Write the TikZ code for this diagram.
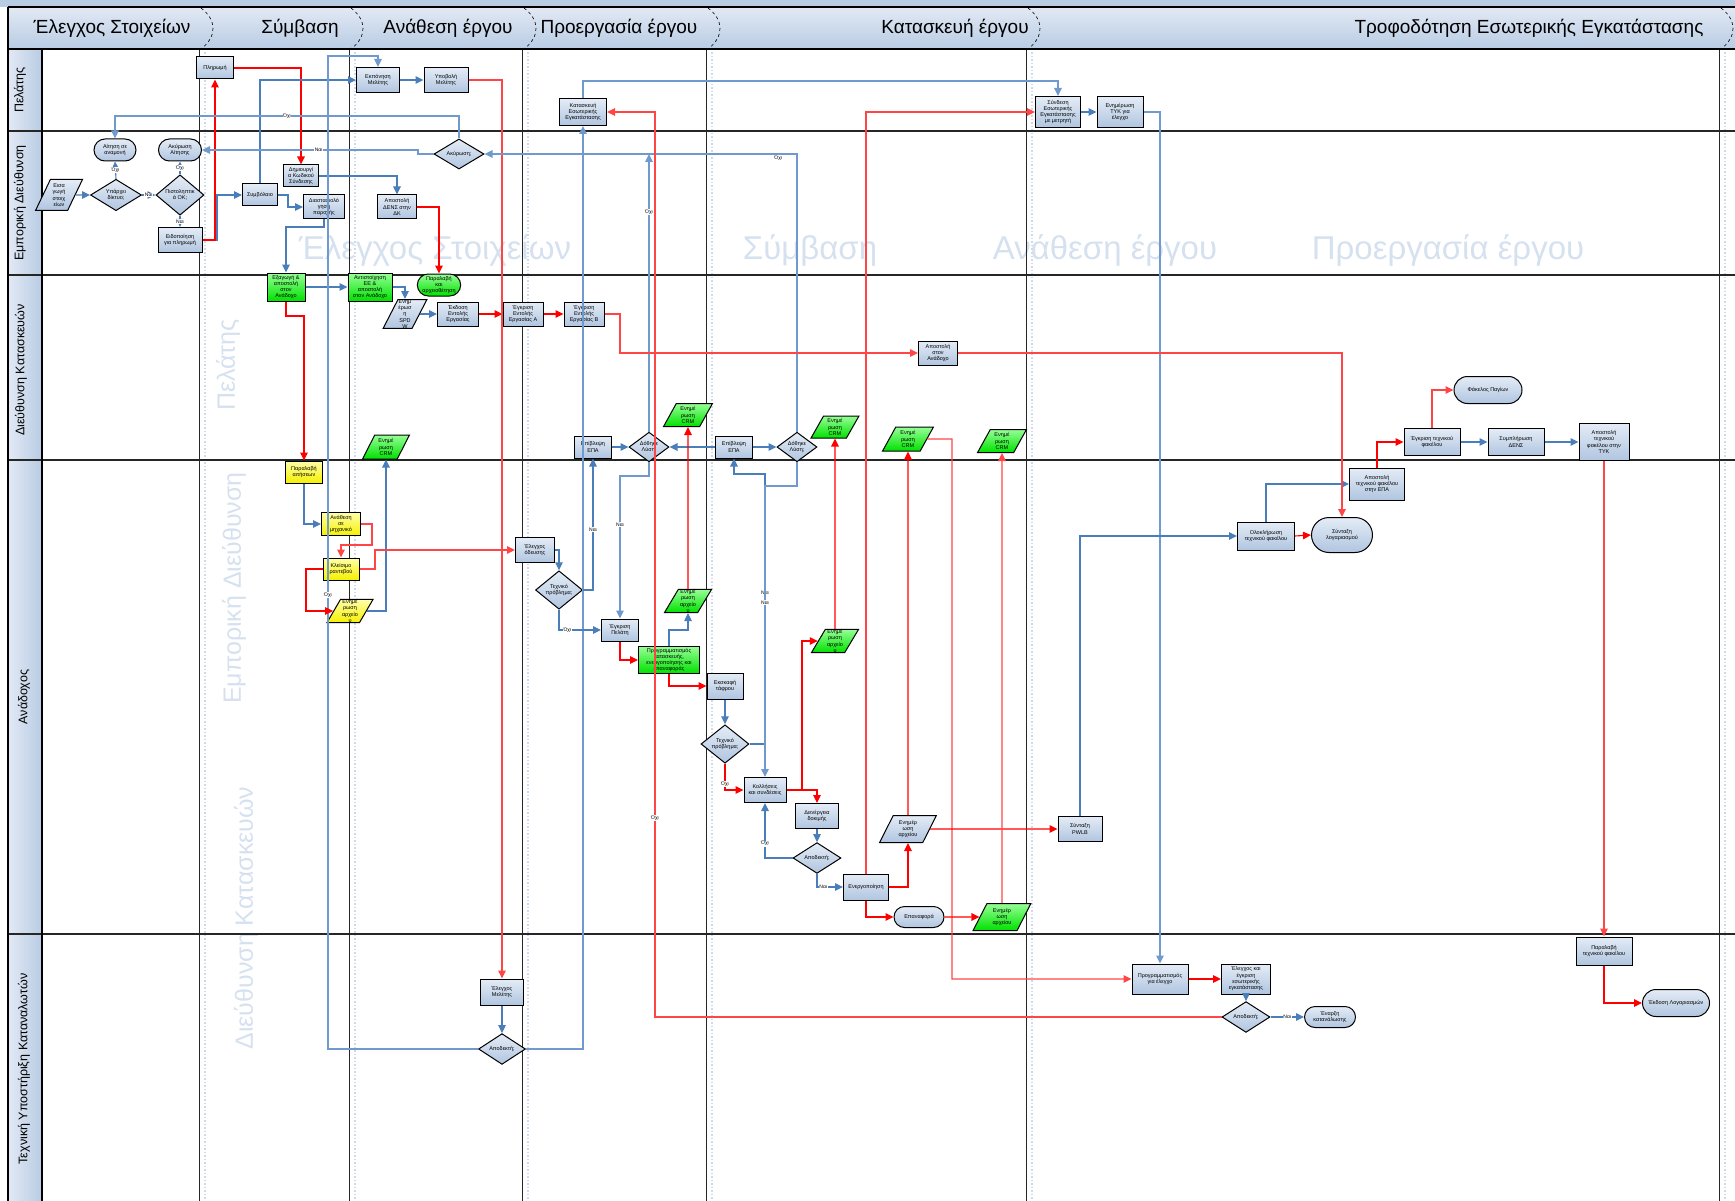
\documentclass[tikz,border=0pt]{standalone}
\usepackage{fontspec}
\setmainfont{Liberation Sans}
\usetikzlibrary{arrows.meta,shapes.geometric,shapes.misc}
\definecolor{laneblue}{RGB}{184,204,228}
\definecolor{lanelight}{RGB}{226,233,244}
\definecolor{boxtop}{RGB}{228,236,246}
\definecolor{boxbot}{RGB}{176,197,224}
\definecolor{greentop}{RGB}{150,255,150}
\definecolor{greenbot}{RGB}{0,225,0}
\definecolor{yellowtop}{RGB}{255,255,170}
\definecolor{yellowbot}{RGB}{245,240,0}
\definecolor{flowblue}{RGB}{74,126,187}
\definecolor{flowpale}{RGB}{112,153,206}
\definecolor{flowred}{RGB}{255,0,0}
\definecolor{flowpink}{RGB}{255,70,70}
\definecolor{ghost}{RGB}{214,225,240}
\definecolor{phaseline}{RGB}{205,218,236}
\begin{document}
\begin{tikzpicture}[x=1pt,y=-1pt,
  every node/.style={font=\fontsize{5.5}{6.3}\selectfont,align=center,inner sep=0.5pt},
  sz/.style 2 args={minimum width=#1pt,minimum height=#2pt},
  proc/.style={rectangle,draw=black,line width=1pt,top color=boxtop,bottom color=boxbot},
  procg/.style={proc,top color=greentop,bottom color=greenbot},
  procy/.style={proc,top color=yellowtop,bottom color=yellowbot},
  dec/.style={diamond,draw=black,line width=1pt,top color=boxtop,bottom color=boxbot,inner sep=0pt},
  term/.style={rounded rectangle,draw=black,line width=1pt,top color=boxtop,bottom color=boxbot},
  termg/.style={term,top color=greentop,bottom color=greenbot},
  io/.style={trapezium,trapezium left angle=64,trapezium right angle=116,trapezium stretches=true,
    draw=black,line width=1pt,top color=boxtop,bottom color=boxbot,inner sep=0pt},
  iog/.style={io,top color=greentop,bottom color=greenbot},
  ioy/.style={io,top color=yellowtop,bottom color=yellowbot},
  fl/.style={draw=flowblue,line width=1.1pt,-{Triangle[length=8pt,width=7.5pt]}},
  flp/.style={fl,draw=flowpale},
  fr/.style={draw=flowred,line width=1.1pt,-{Triangle[length=8pt,width=7.5pt]}},
  frp/.style={fr,draw=flowpink},
  lbl/.style={font=\fontsize{5}{6}\selectfont,fill=white,inner sep=0.6pt},
  lane/.style={rotate=90,font=\fontsize{12.5}{14}\selectfont},
  phase/.style={font=\fontsize{19}{22}\selectfont},
  ghosth/.style={text=ghost,font=\fontsize{33}{36}\selectfont},
  ghostv/.style={text=ghost,rotate=90,font=\fontsize{25}{28}\selectfont}]
  \useasboundingbox (0,0) rectangle (1735,1201);
  \fill[laneblue] (0,0) rectangle (1735,7);
  \shade[top color=lanelight,bottom color=laneblue] (8,7) rectangle (1735,49);
  \foreach \ya/\yb in {49/131,131/275,275/460,460/934,934/1201}
    \shade[left color=lanelight,right color=laneblue] (8,\ya) rectangle (42,\yb);
  \node[ghosth] (gh1) at (435,250) {Έλεγχος Στοιχείων};
  \node[ghosth] (gh2) at (810,250) {Σύμβαση};
  \node[ghosth] (gh3) at (1105,250) {Ανάθεση έργου};
  \node[ghosth] (gh4) at (1448,250) {Προεργασία έργου};
  \node[ghostv] (gv1) at (228,365) {Πελάτης};
  \node[ghostv] (gv2) at (234,588) {Εμπορική Διεύθυνση};
  \node[ghostv] (gv3) at (246,918) {Διεύθυνση Κατασκευών};
  \foreach \x in {205,355,528,712,1032,1725}
    \draw[phaseline,line width=1.5pt,dotted] (\x,49) -- (\x,1201);
  \foreach \x in {199,349,522,706,1026,1719}
    \draw[black!85,line width=1pt] (\x,49) -- (\x,1201);
  \foreach \x in {201,351,524,708,1028,1721}
    \draw[dashed,line width=0.6pt] (\x,8) .. controls (\x+16,20) and (\x+16,37) .. (\x,49);
  \foreach \y in {131,275,460,934}
    \draw[black!85,line width=1.3pt] (8,\y) -- (1735,\y);
  \draw[line width=2.2pt] (8,7) -- (1735,7) (8,49) -- (1735,49) (8,7) -- (8,1201);
  \draw[line width=1.2pt] (42,49) -- (42,1201);
  \node[phase] (ph1) at (112,28) {Έλεγχος Στοιχείων};
  \node[phase] (ph2) at (300,28) {Σύμβαση};
  \node[phase] (ph3) at (448,28) {Ανάθεση έργου};
  \node[phase] (ph4) at (619,28) {Προεργασία έργου};
  \node[phase] (ph5) at (955,28) {Κατασκευή έργου};
  \node[phase] (ph6) at (1529,28) {Τροφοδότηση Εσωτερικής Εγκατάστασης};
  \node[lane] (ln1) at (20,90) {Πελάτης};
  \node[lane] (ln2) at (20,203) {Εμπορική Διεύθυνση};
  \node[lane] (ln3) at (21,370) {Διεύθυνση Κατασκευών};
  \node[lane] (ln4) at (24,697) {Ανάδοχος};
  \node[lane] (ln5) at (24,1069) {Τεχνική Υποστήριξη Καταναλωτών};

  \node[proc,sz={37}{22}] (pay) at (215,68) {Πληρωμή};
  \node[proc,sz={43}{25}] (ekp) at (378,80) {Εκπόνηση\\Μελέτης};
  \node[proc,sz={44}{25}] (ypo) at (446,80) {Υποβολή\\Μελέτης};
  \node[proc,sz={47}{27}] (kat) at (583,112) {Κατασκευή\\Εσωτερικής\\Εγκατάστασης};
  \node[proc,sz={45}{31}] (synd) at (1058,112) {Σύνδεση\\Εσωτερικής\\Εγκατάστασης\\με μετρητή};
  \node[proc,sz={46}{31}] (tyk) at (1120,112) {Ενημέρωση\\ΤΥΚ για\\έλεγχο};

  \node[term,sz={43}{22}] (wait) at (115,150) {Αίτηση σε\\αναμονή};
  \node[term,sz={44}{22}] (canc) at (180,150) {Ακύρωση\\Αίτησης};
  \node[io,sz={47}{31}] (inp) at (59,195) {Εισα\\γωγή\\στοιχ\\είων};
  \node[dec,sz={51}{31}] (net) at (116,195) {Υπάρχει\\δίκτυο;};
  \node[dec,sz={48}{31}] (cred) at (180,195) {Πιστοληπτικ\\ά ΟΚ;};
  \node[proc,sz={44}{25}] (notify) at (180,240) {Ειδοποίηση\\για πληρωμή};
  \node[proc,sz={35}{22}] (contr) at (260,195) {Συμβόλαιο};
  \node[proc,sz={35}{22}] (code) at (301,176) {Δημιουργί\\α Κωδικού\\Σύνδεσης};
  \node[proc,sz={41}{24}] (dim) at (324,207) {Διαστασιολό\\γηση\\παροχής};
  \node[proc,sz={39}{24}] (dens) at (397,207) {Αποστολή\\ΔΕΝΣ στην\\ΔΚ};
  \node[dec,sz={50}{30}] (abort) at (459,154) {Ακύρωση;};

  \node[procg,sz={38}{28}] (exp) at (286,287) {Εξαγωγή \&\\αποστολή\\στον\\Ανάδοχο};
  \node[procg,sz={44}{28}] (match) at (370,287) {Αντιστοίχηση\\ΕΕ \&\\αποστολή\\στον Ανάδοχο};
  \node[termg,sz={43}{22}] (recv) at (439,285) {Παραλαβή\\και\\αρχειοθέτηση};
  \node[io,sz={44}{24}] (spdw) at (405,314) {Ενημ\\έρωσ\\η\\SPD\\W};
  \node[proc,sz={41}{24}] (issue) at (458,314) {Έκδοση\\Εντολής\\Εργασίας};
  \node[proc,sz={40}{24}] (appra) at (523,314) {Έγκριση\\Εντολής\\Εργασίας Α};
  \node[proc,sz={40}{24}] (apprb) at (584,314) {Έγκριση\\Εντολής\\Εργασίας Β};
  \node[proc,sz={39}{24}] (send) at (938,353) {Αποστολή\\στον\\Ανάδοχο};
  \node[term,sz={69}{27}] (pagia) at (1488,390) {Φάκελος Παγίων};
  \node[iog,sz={47}{24}] (crm1) at (386,447) {Ενημέ\\ρωση\\CRM};
  \node[iog,sz={49}{23}] (crm2) at (688,415) {Ενημέ\\ρωση\\CRM};
  \node[iog,sz={48}{22}] (crm3) at (835,427) {Ενημέ\\ρωση\\CRM};
  \node[iog,sz={51}{24}] (crm4) at (908,439) {Ενημέ\\ρωση\\CRM};
  \node[iog,sz={49}{23}] (crm5) at (1002,441) {Ενημέ\\ρωση\\CRM};
  \node[proc,sz={37}{22}] (epa1) at (593,447) {Επίβλεψη\\ΕΠΑ};
  \node[dec,sz={40}{24}] (sol1) at (649,447) {Δόθηκε\\Λύση;};
  \node[proc,sz={37}{22}] (epa2) at (734,447) {Επίβλεψη\\ΕΠΑ};
  \node[dec,sz={40}{24}] (sol2) at (797,447) {Δόθηκε\\Λύση;};
  \node[proc,sz={56}{27}] (apprtf) at (1432,442) {Έγκριση τεχνικού\\φακέλου};
  \node[proc,sz={56}{27}] (dens2) at (1516,442) {Συμπλήρωση\\ΔΕΝΣ};
  \node[proc,sz={50}{37}] (sendtyk) at (1604,442) {Αποστολή\\τεχνικού\\φακέλου στην\\ΤΥΚ};

  \node[procy,sz={37}{22}] (rcvapp) at (304,472) {Παραλαβή\\αιτήσεων};
  \node[procy,sz={39}{23}] (assign) at (341,524) {Ανάθεση\\σε\\μηχανικό};
  \node[procy,sz={36}{22}] (appt) at (341,569) {Κλείσιμο\\ραντεβού};
  \node[ioy,sz={46}{22}] (updy) at (350,611) {Ενημέ\\ρωση\\αρχείο\\υ};
  \node[proc,sz={39}{25}] (route) at (535,550) {Έλεγχος\\όδευσης};
  \node[dec,sz={47}{27}] (tp1) at (559,590) {Τεχνικό\\πρόβλημα;};
  \node[proc,sz={37}{22}] (cust) at (620,630) {Έγκριση\\Πελάτη};
  \node[procg,sz={61}{27}] (sched) at (669,660) {Προγραμματισμός\\κατασκευής,\\ενεργοποίησης και\\επαναφοράς};
  \node[iog,sz={47}{21}] (updg1) at (688,601) {Ενημέ\\ρωση\\αρχείο\\υ};
  \node[iog,sz={47}{22}] (updg2) at (835,641) {Ενημέ\\ρωση\\αρχείο\\υ};
  \node[proc,sz={36}{26}] (dig) at (725,686) {Εκσκαφή\\τάφρου};
  \node[dec,sz={48}{28}] (tp2) at (725,744) {Τεχνικό\\πρόβλημα;};
  \node[proc,sz={42}{25}] (weld) at (765,790) {Κολλήσεις\\και συνδέσεις};
  \node[proc,sz={43}{25}] (test) at (817,816) {Διενέργεια\\δοκιμής};
  \node[dec,sz={48}{28}] (acc3) at (817,858) {Αποδεκτή;};
  \node[proc,sz={45}{26}] (act) at (866,887) {Ενεργοποίηση};
  \node[term,sz={51}{21}] (restore) at (919,917) {Επαναφορά};
  \node[io,sz={57}{27}] (updb) at (908,829) {Ενημέρ\\ωση\\αρχείου};
  \node[iog,sz={58}{27}] (updg3) at (1002,917) {Ενημέρ\\ωση\\αρχείου};
  \node[proc,sz={44}{25}] (pwlb) at (1080,829) {Σύνταξη\\PWLB};
  \node[proc,sz={57}{28}] (compl) at (1266,536) {Ολοκλήρωση\\τεχνικού φακέλου};
  \node[term,sz={62}{35}] (bill) at (1342,535) {Σύνταξη\\λογαριασμού};
  \node[proc,sz={55}{32}] (sendepa) at (1377,484) {Αποστολή\\τεχνικού φακέλου\\στην ΕΠΑ};

  \node[proc,sz={43}{26}] (study) at (502,992) {Έλεγχος\\Μελέτης};
  \node[dec,sz={47}{28}] (acc5) at (502,1049) {Αποδεκτή;};
  \node[proc,sz={56}{30}] (progchk) at (1160,979) {Προγραμματισμός\\για έλεγχο};
  \node[proc,sz={49}{30}] (check) at (1246,979) {Έλεγχος και\\έγκριση\\εσωτερικής\\εγκατάστασης};
  \node[dec,sz={48}{28}] (acc4) at (1246,1017) {Αποδεκτή;};
  \node[term,sz={52}{21}] (start) at (1330,1017) {Έναρξη\\κατανάλωσης};
  \node[proc,sz={56}{28}] (rcvtf) at (1604,951) {Παραλαβή\\τεχνικού φακέλου};
  \node[term,sz={68}{27}] (bills) at (1676,1003) {Έκδοση Λογαριασμών};

  \draw[fl] (inp.east) -- (net.west);
  \draw[fl] (net.east) -- node[lbl]{Ναι} (cred.west);
  \draw[fl] (net.north) -- node[lbl]{Όχι} (wait.south);
  \draw[fl] (cred.north) -- node[lbl]{Όχι} (canc.south);
  \draw[fl] (cred.south) -- node[lbl]{Ναι} (notify.north);
  \draw[fl] (notify.east) -- (217,240) |- (contr.west);
  \draw[fr] (notify.east) -| (pay.south);
  \draw[fr] (pay.east) -| (code.north);
  \draw[fl] (contr.north) |- (ekp.west);
  \draw[fl] (contr.east) -- (288,195) |- (dim.west);
  \draw[fl] (code.east) -| (dens.north);
  \draw[fr] (dens.east) -| (recv.north);
  \draw[fl] (dim.south) -- (324,227) -| (exp.north);
  \draw[fl] (exp.east) -- (match.west);
  \draw[fr] (exp.south) -- (286,316) -| (rcvapp.north);
  \draw[fl] (match.east) -| (spdw.north);
  \draw[fl] (spdw.east) -- (issue.west);
  \draw[fr] (issue.east) -- (appra.west);
  \draw[fr] (appra.east) -- (apprb.west);
  \draw[flp] (acc5.west) -| (328,56) -| (ekp.north);
  \draw[flp] (acc5.east) -| (kat.south);
  \draw[fl] (study.south) -- (acc5.north);
  \draw[fl] (ekp.east) -- (ypo.west);
  \draw[frp] (ypo.east) -| (study.north);
  \draw[flp] (kat.north) -- (583,81) -| (synd.north);
  \draw[fl] (synd.east) -- (tyk.west);
  \draw[flp] (tyk.east) -| (progchk.north);
  \draw[flp] (abort.west) -- (418,154) |- (canc.east) node[lbl,pos=0.73]{Ναι};
  \draw[flp] (abort.north) -- (459,116) -| (wait.north) node[lbl,pos=0.25]{Όχι};
  \draw[flp] (sol2.north) |- (abort.east) node[lbl,pos=0.53,below=1pt]{Όχι};
  \draw[flp] (sol1.north) -- node[lbl,pos=0.79]{Όχι} (649,154);
  \draw[flp] (sol1.south) -- (649,476) -| (cust.north) node[lbl,pos=0.67]{Ναι};
  \draw[fl] (epa1.east) -- (sol1.west);
  \draw[fl] (tp1.east) -| (epa1.south) node[lbl,pos=0.73]{Ναι};
  \draw[fl] (tp1.south) |- (cust.west) node[lbl,pos=0.6]{Όχι};
  \draw[fl] (route.east) -| (tp1.north);
  \draw[fl] (epa2.east) -- (sol2.west);
  \draw[fl] (epa2.west) -- (sol1.east);
  \draw[fl] (tp2.east) -| (765,474) node[lbl,pos=0.78]{Ναι} -| (epa2.south);
  \draw[flp] (sol2.south) -- (797,486) -| (weld.north) node[lbl,pos=0.7]{Ναι};
  \draw[fl] (dig.south) -- (tp2.north);
  \draw[fl] (acc3.west) -| (weld.south) node[lbl,pos=0.63]{Όχι};
  \draw[fl] (test.south) -- (acc3.north);
  \draw[fl] (acc3.south) |- (act.west) node[lbl,pos=0.62]{Ναι};
  \draw[fl] (pwlb.north) |- (compl.west);
  \draw[fl] (compl.north) |- (sendepa.west);
  \draw[fl] (apprtf.east) -- (dens2.west);
  \draw[fl] (dens2.east) -- (sendtyk.west);
  \draw[fl] (rcvapp.south) |- (assign.west);
  \draw[fl] (updy.east) -| (crm1.south);
  \draw[fl] (sched.north) -- (669,630) -| (updg1.south);
  \draw[fl] (check.south) -- (acc4.north);
  \draw[fl] (acc4.east) -- node[lbl]{Ναι} (start.west);

  \draw[frp] (apprb.east) -- (620,314) |- (send.west);
  \draw[frp] (send.east) -| (bill.north);
  \draw[frp] (acc4.west) -| (655,112) node[lbl,pos=0.61]{Όχι} -- (kat.east);
  \draw[frp] (act.north) |- (synd.west);
  \draw[fr] (act.south) |- (restore.west);
  \draw[fr] (act.east) -| (updb.south);
  \draw[fr] (updb.north) -- (crm4.south);
  \draw[frp] (crm4.east) -- (952,439) |- (progchk.west);
  \draw[fr] (updb.east) -- (pwlb.west);
  \draw[fr] (restore.east) -- (updg3.west);
  \draw[frp] (updg3.north) -- (crm5.south);
  \draw[fr] (progchk.east) -- (check.west);
  \draw[fr] (weld.east) -| (test.north);
  \draw[fr] (weld.east) -- (802,790) |- (updg2.west);
  \draw[fr] (updg2.north) -- (crm3.south);
  \draw[fr] (tp2.south) |- (weld.west) node[lbl,pos=0.39]{Όχι};
  \draw[fr] (sched.south) |- (dig.west);
  \draw[fr] (cust.south) |- (sched.west);
  \draw[fr] (updg1.north) -- (crm2.south);
  \draw[frp] (appt.east) -- (375,569) |- (route.west);
  \draw[frp] (assign.east) -- (372,524) -- (372,545) -| (appt.north);
  \draw[fr] (appt.west) -- (306,569) |- (updy.west) node[lbl,pos=0.31,xshift=22pt]{Όχι};
  \draw[frp] (apprtf.north) |- (pagia.west);
  \draw[fr] (sendepa.north) |- (apprtf.west);
  \draw[fr] (compl.east) -- (bill.west);
  \draw[frp] (sendtyk.south) -- (rcvtf.north);
  \draw[fr] (rcvtf.south) |- (bills.west);
\end{tikzpicture}
\end{document}
